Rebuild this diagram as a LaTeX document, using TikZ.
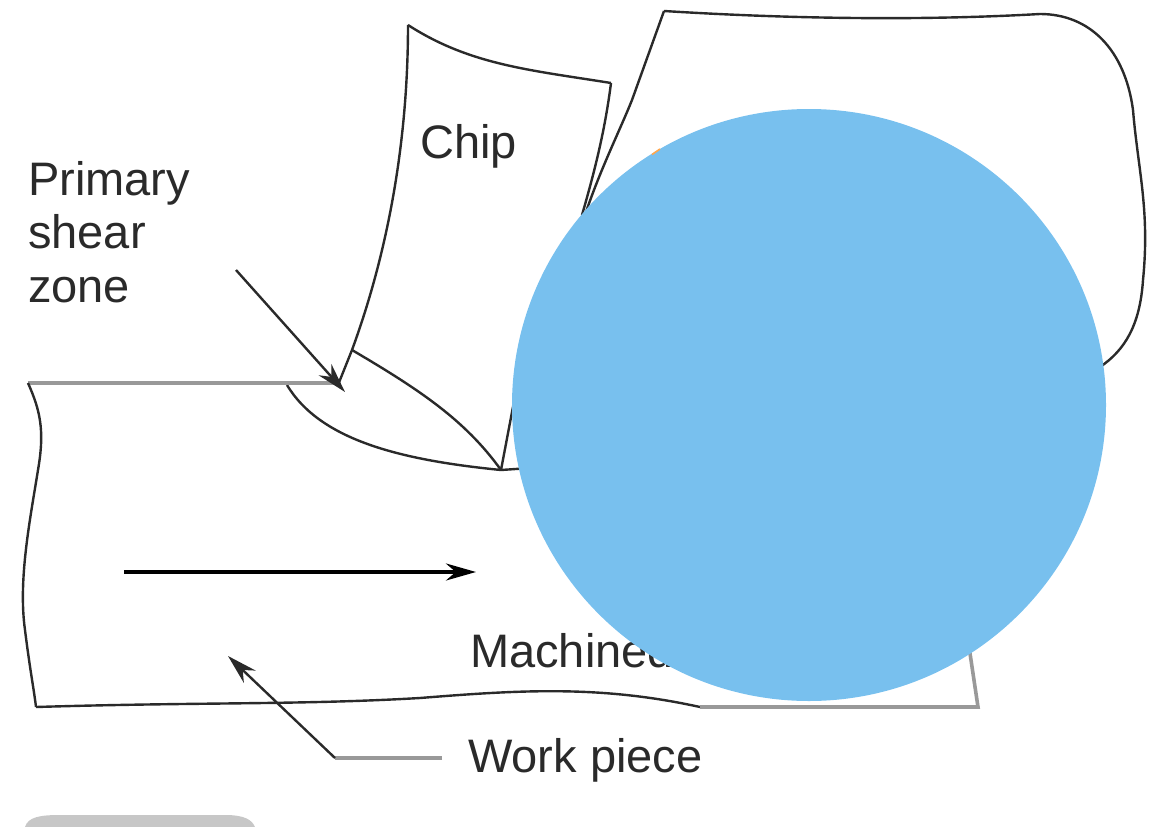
\documentclass[tikz,border=0pt]{standalone}
\usepackage{fontspec}
\setmainfont{Liberation Sans}
\usetikzlibrary{arrows.meta}
\definecolor{disc}{HTML}{78C0EE}
\definecolor{ink}{HTML}{2A2A2A}
\tikzset{
 outline/.style={draw=ink,line width=2.4pt,line join=round},
 lead/.style={draw=ink,line width=2.4pt},
 graylead/.style={draw=black!40,line width=3.6pt},
 label/.style={font=\fontsize{47}{47}\selectfont,text=ink,inner sep=0pt,anchor=base west,align=left},
 head/.style={-{Stealth[length=30pt,width=17pt]}},
}
\begin{document}
\begin{tikzpicture}[x=1pt,y=-1pt]
\useasboundingbox (0,0) rectangle (1159,827);
% workpiece
\draw[outline] (352,350) .. controls (420,390) and (465,420) .. (501,470);
\draw[outline] (287,385) .. controls (320,440) and (400,460) .. (501,470);
\draw[outline] (501,470) -- (530,468);
\draw[graylead] (28,383) -- (335,383);
\draw[outline] (28,383) .. controls (40,410) and (45,430) .. (38,470) .. controls (30,520) and (18,580) .. (25,630) .. controls (30,670) and (34,690) .. (36,707);
\draw[outline] (36,707) .. controls (200,702) and (300,705) .. (420,698) .. controls (520,690) and (600,685) .. (700,707);
\draw[graylead] (700,707) -- (978,707) -- (968,640);
% chip
\draw[outline] (408,25) .. controls (408,150) and (385,260) .. (352,350) -- (338,385);
\draw[outline] (408,25) .. controls (470,65) and (530,70) .. (611,83);
\draw[outline] (611,83) .. controls (605,130) and (595,170) .. (582,215);
% tool
\draw[outline] (664,11) -- (632,100) .. controls (620,130) and (600,170) .. (585,215);
\draw[outline] (664,11) .. controls (760,17) and (900,22) .. (1040,14) .. controls (1090,14) and (1125,50) .. (1133,110) .. controls (1138,170) and (1150,210) .. (1143,280) .. controls (1140,325) and (1125,350) .. (1100,367);
\draw[outline] (501,470) -- (520,370);
% bottom tab
\fill[black!22] (25,827) .. controls (28,817) and (40,815) .. (60,815) -- (225,815) .. controls (245,815) and (252,820) .. (255,827) -- cycle;
% leaders and arrows
\coordinate (pa) at (236,270);
\coordinate (pb) at (345,392);
\draw[lead,head] (pa) -- (pb);
\coordinate (fa) at (124,572);
\coordinate (fb) at (476,572);
\draw[draw=black,line width=3.4pt,head] (fa) -- (fb);
\coordinate (wa) at (442,758);
\coordinate (wb) at (335,758);
\coordinate (wc) at (228,656);
\draw[graylead] (wa) -- (wb);
\draw[lead,head] (wb) -- (wc);
% labels
\node[label] (chip) at (420,158) {Chip};
\node[label] (p1) at (28,195) {Primary};
\node[label] (p2) at (28,248) {shear};
\node[label] (p3) at (28,302) {zone};
\node[label] (mach) at (470,667) {Machined};
% disc
\fill[disc] (809,405) ellipse [x radius=297,y radius=296];
% mark at the disc rim
\draw[draw=orange!70,line width=1.6pt] (652,154.5) -- (660,149);
\node[label] (work) at (468,772) {Work piece};
\end{tikzpicture}
\end{document}
